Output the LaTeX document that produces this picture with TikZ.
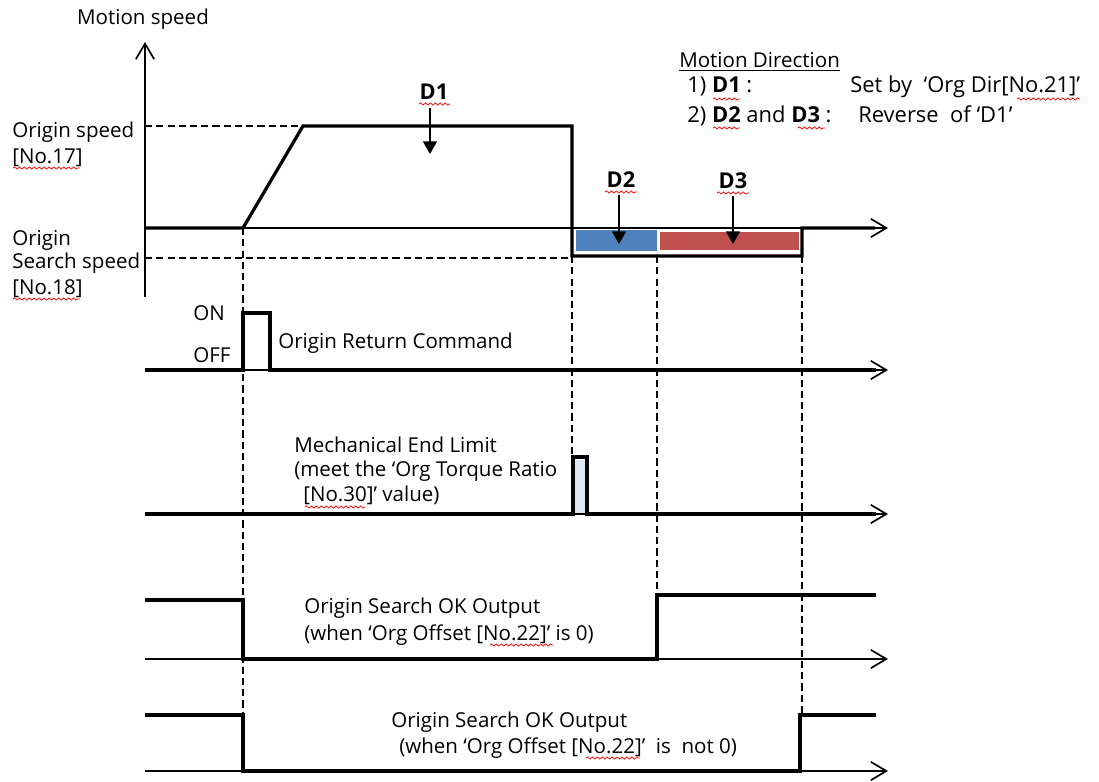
\documentclass[tikz,border=0pt]{standalone}
\usepackage{fontspec}
\setmainfont{Open Sans}
\usetikzlibrary{arrows.meta,decorations.pathmorphing}

\definecolor{dirblue}{RGB}{79,129,189}
\definecolor{dirred}{RGB}{192,80,77}
\definecolor{pulsefill}{RGB}{220,230,242}

\begin{document}
\begin{tikzpicture}[
  x=0.025cm, y=-0.025cm,
  txt/.style={font=\fontsize{14.6}{17}\selectfont, inner sep=0pt, anchor=base west},
  ltxt/.style={txt, font=\fontsize{15.6}{18}\selectfont},
  dtxt/.style={font=\bfseries\fontsize{15.5}{17}\selectfont, inner sep=0pt, anchor=base},
  axis/.style={line width=1.2pt, -{Straight Barb[length=11pt,width=13pt,line width=1.2pt]}},
  wave/.style={line width=2.3pt},
  guide/.style={line width=0.9pt, dash pattern=on 5pt off 3pt},
  dirarrow/.style={line width=1pt, shorten <=0.2cm, -{Triangle[length=9pt,width=10pt]}},
  spell/.style={red, line width=0.5pt, decorate, decoration={snake, amplitude=0.8pt, segment length=3.5pt}}
]
\useasboundingbox (0,0) rectangle (1099,782);

% Motion speed axis
\coordinate (vbot) at (145,297);
\coordinate (vtop) at (145,42);
\draw[axis] (vbot) -- (vtop);
\node[txt, anchor=base] (speed) at (143,25) {Motion speed};

\node[txt] (orgspd) at (12,137) {Origin speed};
\node[txt] (orgno) at (12,163) {[No.17]};
\node[txt] (srch) at (12,245) {Origin};
\node[txt] (srchspd) at (12,268) {Search speed};
\node[txt] (srchno) at (12,294) {[No.18]};
\draw[spell] (13,168) -- (80,168);
\draw[spell] (13,299) -- (80,299);

% direction blocks
\fill[dirblue] (576,230) rectangle (657,251);
\fill[dirred] (660,232) rectangle (799,250);

% speed profile
\coordinate (s0) at (145,228);
\coordinate (send) at (888,228);
\draw[axis] (s0) -- (send);
\draw[guide] (145,126) -- (303,126);
\draw[guide] (145,258) -- (572,258);
\draw[wave] (145,228) -- (243,228) -- (303,126) -- (572,126) -- (572,256)
  -- (802,256) -- (802,228) -- (875,228);

% D1, D2, D3
\node[dtxt] (d1) at (434,100) {D1};
\node[dtxt] (d2) at (621,187) {D2};
\node[dtxt] (d3) at (733,188) {D3};
\coordinate (d1tip) at (430,154);
\coordinate (d2tip) at (619,244);
\coordinate (d3tip) at (733,244);
\draw[dirarrow] (d1.south -| d1tip) -- (d1tip);
\draw[dirarrow] (d2.south -| d2tip) -- (d2tip);
\draw[dirarrow] (d3.south -| d3tip) -- (d3tip);
\draw[spell] (419,104) -- (450,104);
\draw[spell] (605,192) -- (637,192);
\draw[spell] (717,193) -- (749,193);

% Motion direction legend
\node[txt] (legend) at (679,68) {\underline{Motion Direction}};
\node[ltxt] (leg1) at (687,93) {1) \textbf{D1} :};
\node[ltxt] (leg1b) at (850,93) {Set by ~‘Org Dir[No.21]’};
\node[ltxt] (leg2) at (687,122) {2) \textbf{D2} and \textbf{D3} :};
\node[ltxt] (leg2b) at (858,122) {Reverse ~of ‘D1’};
\draw[spell] (713,99) -- (740,99);
\draw[spell] (1017,99) -- (1080,99);
\draw[spell] (713,128) -- (740,128);
\draw[spell] (798,128) -- (825,128);

% time marks
\draw[guide] (243,228) -- (243,771);
\draw[guide] (572,256) -- (572,457);
\draw[guide] (657,256) -- (657,659);
\draw[guide] (802,256) -- (802,715);

% Origin return command
\coordinate (c0) at (145,370);
\coordinate (cend) at (888,370);
\draw[axis] (c0) -- (cend);
\draw[wave] (145,370) -- (243,370) -- (243,313) -- (270,313) -- (270,370) -- (876,370);
\node[txt] (on) at (193,320) {ON};
\node[txt] (off) at (193,362) {OFF};
\node[txt] (cmd) at (278,348) {Origin Return Command};

% Mechanical end limit
\fill[pulsefill] (574,460) rectangle (586,514);
\coordinate (m0) at (145,514);
\coordinate (mend) at (888,514);
\draw[axis] (m0) -- (mend);
\draw[wave] (145,514) -- (573,514) -- (573,457) -- (587,457) -- (587,514) -- (876,514);
\node[txt] (mech1) at (294,452) {Mechanical End Limit};
\node[txt] (mech2) at (294,476) {(meet the ‘Org Torque Ratio};
\node[txt] (mech3) at (303,501) {[No.30]’ value)};
\draw[spell] (305,507) -- (365,507);

% Origin search OK output, offset 0
\coordinate (o0) at (145,659);
\coordinate (oend) at (888,659);
\draw[axis] (o0) -- (oend);
\draw[wave] (145,600) -- (243,600) -- (243,659) -- (657,659) -- (657,595) -- (876,595);
\node[txt] (ok1) at (304,613) {Origin Search OK Output};
\node[txt] (ok1b) at (304,640) {(when ‘Org Offset [No.22]’ is 0)};
\draw[spell] (490,645) -- (553,645);

% Origin search OK output, offset not 0
\coordinate (p0) at (145,771);
\coordinate (pend) at (888,771);
\draw[axis] (p0) -- (pend);
\draw[wave] (145,715) -- (243,715) -- (243,771) -- (800,771) -- (800,715) -- (876,715);
\node[txt] (ok2) at (391,727) {Origin Search OK Output};
\node[txt] (ok2b) at (399,753) {(when ‘Org Offset [No.22]’ ~is ~not 0)};
\draw[spell] (586,758) -- (640,758);
\end{tikzpicture}
\end{document}
